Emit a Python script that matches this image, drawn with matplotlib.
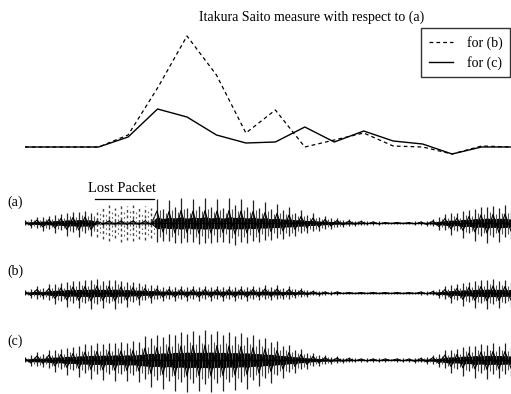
import matplotlib.pyplot as plt
import numpy as np

plt.rcParams["font.family"] = ["Liberation Serif", "DejaVu Serif"]

# Itakura-Saito distance per analysis frame
frames = [0.5, 3, 4, 5, 6, 7, 8, 9, 10, 11, 12, 13, 14, 15, 16, 17]
is_b = [0, 0, 12, 59, 111, 72, 14, 37, 0, 7, 14, 1, 0, -7, 1, 0]
is_c = [0, 0, 10, 38, 30, 12, 4, 5, 20, 5, 16, 6, 3, -7, 0, 0]

# peak amplitude of each waveform, one value per pitch-sized step
wave_a = [3, 5, 6, 8, 7, 10, 9, 13, 11, 14,
          12, 13, 4, 3, 4, 3, 4, 3, 4, 3,
          4, 3, 24, 18, 23, 20, 25, 19, 24, 21,
          25, 20, 24, 19, 25, 22, 24, 20, 23, 19,
          21, 17, 19, 16, 16, 13, 13, 10, 10, 8,
          7, 6, 5, 4, 4, 3, 3, 2, 2, 2,
          1, 1, 1, 1, 1, 2, 2, 3, 4, 7,
          9, 12, 10, 15, 13, 18, 16, 20, 17, 19,
          18, 16]
wave_b = [3, 5, 7, 6, 9, 11, 10, 14, 12, 15,
          13, 16, 14, 15, 13, 16, 12, 14, 11, 12,
          9, 10, 8, 8, 7, 8, 7, 8, 7, 8,
          7, 8, 7, 8, 7, 8, 7, 8, 7, 7,
          8, 7, 8, 6, 7, 5, 5, 4, 3, 3,
          2, 2, 2, 1, 1, 1, 1, 1, 1, 1,
          1, 1, 1, 1, 1, 1, 2, 2, 3, 5,
          7, 10, 9, 13, 11, 15, 13, 16, 14, 15,
          13, 14]
wave_c = [3, 6, 8, 7, 10, 12, 11, 15, 13, 17,
          16, 19, 17, 20, 17, 21, 18, 21, 19, 22,
          24, 27, 25, 29, 26, 31, 28, 32, 29, 31,
          30, 32, 29, 31, 28, 30, 27, 29, 25, 26,
          22, 23, 19, 18, 15, 13, 11, 9, 7, 6,
          5, 4, 4, 3, 3, 2, 2, 2, 2, 2,
          2, 1, 2, 2, 2, 3, 3, 4, 5, 7,
          10, 13, 11, 16, 14, 18, 16, 19, 17, 18,
          17, 16]

# the original (a) samples inside the dropped packet
lost_start = 12
lost_amp = [14, 16, 18, 15, 19, 17, 18, 16, 17, 15]

W, H = 511, 394
fig = plt.figure(figsize=(W / 100, H / 100), dpi=100)


def px_axes(x0, y0, x1, y1):
    return fig.add_axes([x0 / W, 1 - y1 / H, (x1 - x0) / W, (y1 - y0) / H])


top = px_axes(25, 30, 511, 160)
top.plot(frames, is_b, color="black", lw=0.9, ls=(0, (3, 2.5)), label="for (b)")
top.plot(frames, is_c, color="black", lw=1.0, label="for (c)")
top.set_xlim(0.5, 17)
top.set_ylim(-13, 117)
top.axis("off")

fig.text(312 / W, 1 - 17 / H, "Itakura Saito measure with respect to (a)",
         ha="center", va="center", fontsize=10)
leg = fig.legend(loc="upper right", bbox_to_anchor=(510 / W, 1 - 28 / H),
                 frameon=True, fancybox=False, fontsize=10, borderaxespad=0,
                 handlelength=1.7, handletextpad=1.0, labelspacing=0.45,
                 borderpad=0.55)
leg.get_frame().set_edgecolor("black")
leg.get_frame().set_linewidth(1.0)


def draw_wave(ax, amp):
    amp = np.asarray(amp, dtype=float)
    idx = np.arange(len(amp))
    sign = np.where(idx % 2 == 0, 1.0, -1.0)
    # long strokes reach further on alternate sides, like a voiced waveform
    ax.vlines(idx, -amp * np.where(sign > 0, 0.8, 1.0),
              amp * np.where(sign > 0, 1.0, 0.8), color="#222222", lw=0.9)
    ax.vlines(idx + 0.5, -0.6 * amp, 0.55 * amp, color="#555555", lw=0.8)
    ax.plot(idx, 0.5 * amp * sign, color="black", lw=0.8)
    ax.fill_between(idx, -0.25 * amp, 0.25 * amp, color="black", lw=0)
    ax.plot(idx, np.zeros(len(amp)), color="black", lw=0.9)
    ax.set_xlim(0, len(amp) - 1)
    ax.set_ylim(-35, 35)
    ax.axis("off")


ax_a = px_axes(25, 188, 511, 258)
draw_wave(ax_a, wave_a)
lost_idx = np.arange(lost_start, lost_start + len(lost_amp))
lost = np.asarray(lost_amp, dtype=float)
ax_a.vlines(lost_idx, -lost, lost, color="#444444", lw=1.0, linestyles=(0, (2, 2)))
ax_a.vlines(lost_idx + 0.5, -0.7 * lost, 0.7 * lost, color="#666666", lw=0.8,
            linestyles=(0, (1.5, 2.5)))
ax_a.plot([lost_start - 0.3, lost_idx[-1] + 0.5], [24, 24], color="black", lw=0.9,
          clip_on=False)
ax_a.text((lost_start + lost_idx[-1]) / 2 - 0.3, 28, "Lost Packet", ha="center",
          va="bottom", fontsize=10.5)

ax_b = px_axes(25, 258, 511, 328)
draw_wave(ax_b, wave_b)

ax_c = px_axes(25, 325, 511, 395)
draw_wave(ax_c, wave_c)

for label, y in [("(a)", 202), ("(b)", 271), ("(c)", 341)]:
    fig.text(15 / W, 1 - y / H, label, ha="center", va="center", fontsize=10)

fig.savefig("out.png", dpi=100)
